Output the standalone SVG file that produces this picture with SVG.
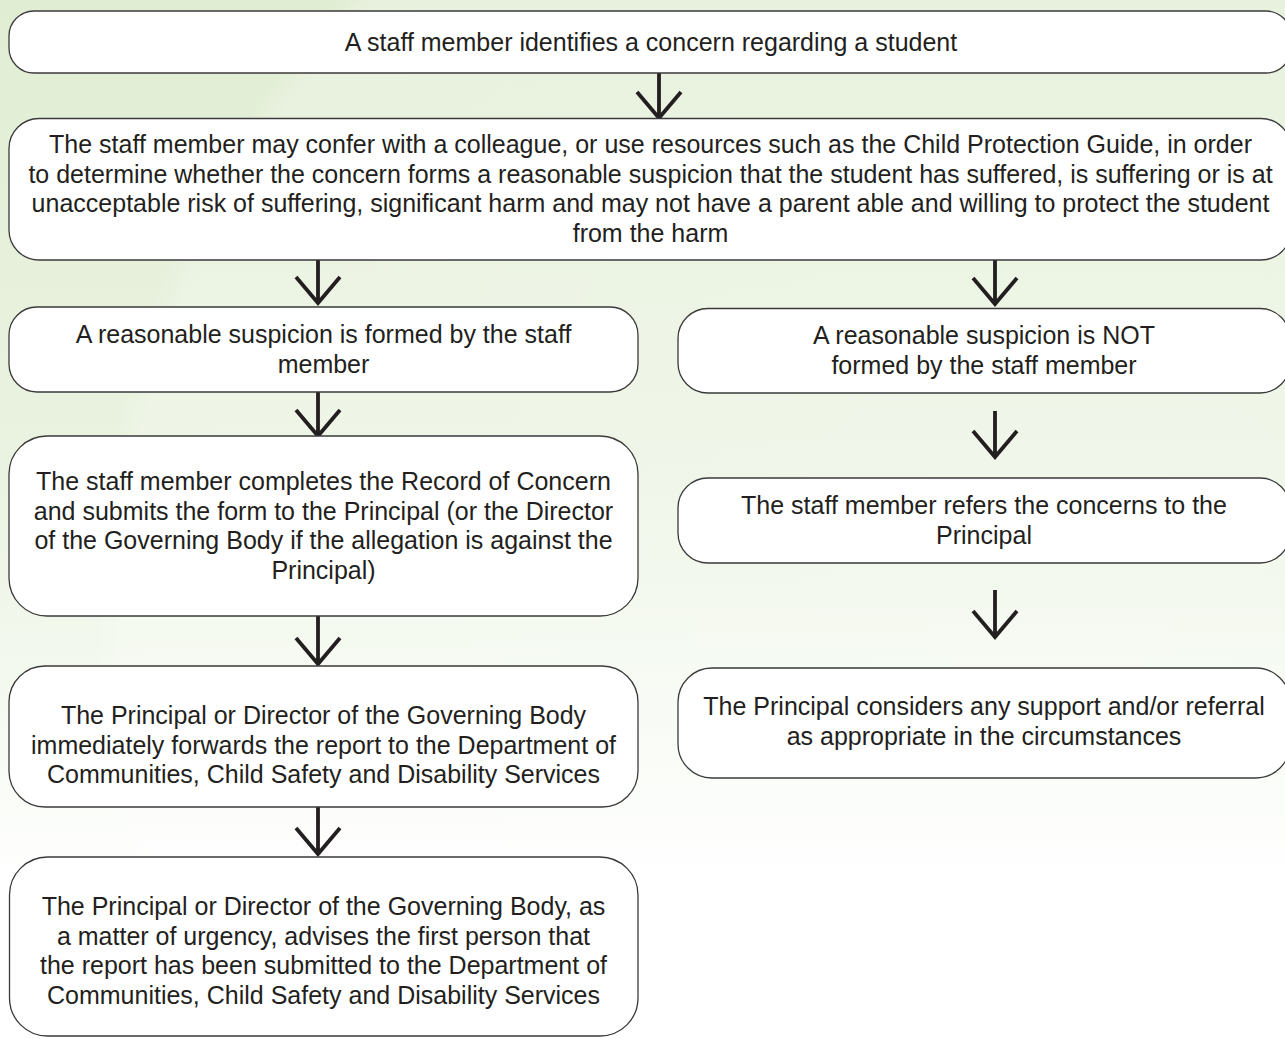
<svg xmlns="http://www.w3.org/2000/svg" width="1285" height="1039" viewBox="0 0 1285 1039">
  <defs>
    <linearGradient id="bg" x1="0" y1="0" x2="0" y2="1">
      <stop offset="0" stop-color="#e1edd3"/>
      <stop offset="0.45" stop-color="#eaf3e1"/>
      <stop offset="0.72" stop-color="#f7fbf4"/>
      <stop offset="0.85" stop-color="#ffffff"/>
      <stop offset="1" stop-color="#ffffff"/>
    </linearGradient>
    <radialGradient id="glow" cx="0.5" cy="0.5" r="0.5">
      <stop offset="0" stop-color="#ffffff" stop-opacity="0.3"/>
      <stop offset="0.97" stop-color="#ffffff" stop-opacity="0.22"/>
      <stop offset="1" stop-color="#ffffff" stop-opacity="0"/>
    </radialGradient>
  </defs>
  <style>
    .box { fill: #ffffff; stroke: #3a3a3a; stroke-width: 1.3; }
    .t { font-family: "Liberation Sans", Arial, sans-serif; font-size: 25px; fill: #231f20; text-anchor: middle; }
    .arr { fill: none; stroke: #231f20; stroke-width: 3.8; stroke-linejoin: miter; stroke-miterlimit: 10; }
  </style>

  <rect x="0" y="0" width="1285" height="1039" fill="url(#bg)"/>
  <circle cx="1050" cy="640" r="960" fill="url(#glow)"/>

  <g id="connectors">
    <path class="arr" d="M659 72 V118 M637 92 L659 118 L681 92"/>
    <path class="arr" d="M318 259 V303 M296 277 L318 303 L340 277"/>
    <path class="arr" d="M995 259 V304 M973 278 L995 304 L1017 278"/>
    <path class="arr" d="M318 392 V436 M296 410 L318 436 L340 410"/>
    <path class="arr" d="M318 616 V664 M296 638 L318 664 L340 638"/>
    <path class="arr" d="M318 807 V854 M296 828 L318 854 L340 828"/>
    <path class="arr" d="M995 411 V457 M973 431 L995 457 L1017 431"/>
    <path class="arr" d="M995 590 V637 M973 611 L995 637 L1017 611"/>
  </g>

  <g id="n1">
    <rect class="box" x="9" y="11" width="1282" height="62" rx="25" ry="25"/>
    <text class="t" x="651" y="51">A staff member identifies a concern regarding a student</text>
  </g>

  <g id="n2">
    <rect class="box" x="9" y="118.5" width="1282" height="141.5" rx="30" ry="30"/>
    <text class="t" x="650.5" y="153">The staff member may confer with a colleague, or use resources such as the Child Protection Guide, in order</text>
    <text class="t" x="650.5" y="182.7">to determine whether the concern forms a reasonable suspicion that the student has suffered, is suffering or is at</text>
    <text class="t" x="650.5" y="212.3">unacceptable risk of suffering, significant harm and may not have a parent able and willing to protect the student</text>
    <text class="t" x="650.5" y="242">from the harm</text>
  </g>

  <g id="n3">
    <rect class="box" x="9" y="307" width="629" height="85" rx="28" ry="28"/>
    <text class="t" x="323.5" y="343">A reasonable suspicion is formed by the staff</text>
    <text class="t" x="323.5" y="373">member</text>
  </g>

  <g id="n4">
    <rect class="box" x="678" y="308.5" width="612" height="84.5" rx="30" ry="30"/>
    <text class="t" x="984" y="344">A reasonable suspicion is NOT</text>
    <text class="t" x="984" y="374">formed by the staff member</text>
  </g>

  <g id="n5">
    <rect class="box" x="9" y="436" width="629" height="180" rx="38" ry="38"/>
    <text class="t" x="323.5" y="490">The staff member completes the Record of Concern</text>
    <text class="t" x="323.5" y="519.5">and submits the form to the Principal (or the Director</text>
    <text class="t" x="323.5" y="549">of the Governing Body if the allegation is against the</text>
    <text class="t" x="323.5" y="578.5">Principal)</text>
  </g>

  <g id="n6">
    <rect class="box" x="678" y="478" width="612" height="85" rx="30" ry="30"/>
    <text class="t" x="984" y="514">The staff member refers the concerns to the</text>
    <text class="t" x="984" y="544">Principal</text>
  </g>

  <g id="n7">
    <rect class="box" x="9" y="666" width="629" height="141" rx="36" ry="36"/>
    <text class="t" x="323.5" y="724">The Principal or Director of the Governing Body</text>
    <text class="t" x="323.5" y="753.5">immediately forwards the report to the Department of</text>
    <text class="t" x="323.5" y="783">Communities, Child Safety and Disability Services</text>
  </g>

  <g id="n8">
    <rect class="box" x="678" y="668" width="612" height="110" rx="34" ry="34"/>
    <text class="t" x="984" y="715">The Principal considers any support and/or referral</text>
    <text class="t" x="984" y="745">as appropriate in the circumstances</text>
  </g>

  <g id="n9">
    <rect class="box" x="9.5" y="857" width="628.5" height="179" rx="38" ry="38"/>
    <text class="t" x="323.5" y="915">The Principal or Director of the Governing Body, as</text>
    <text class="t" x="323.5" y="944.5">a matter of urgency, advises the first person that</text>
    <text class="t" x="323.5" y="974">the report has been submitted to the Department of</text>
    <text class="t" x="323.5" y="1003.5">Communities, Child Safety and Disability Services</text>
  </g>
</svg>
